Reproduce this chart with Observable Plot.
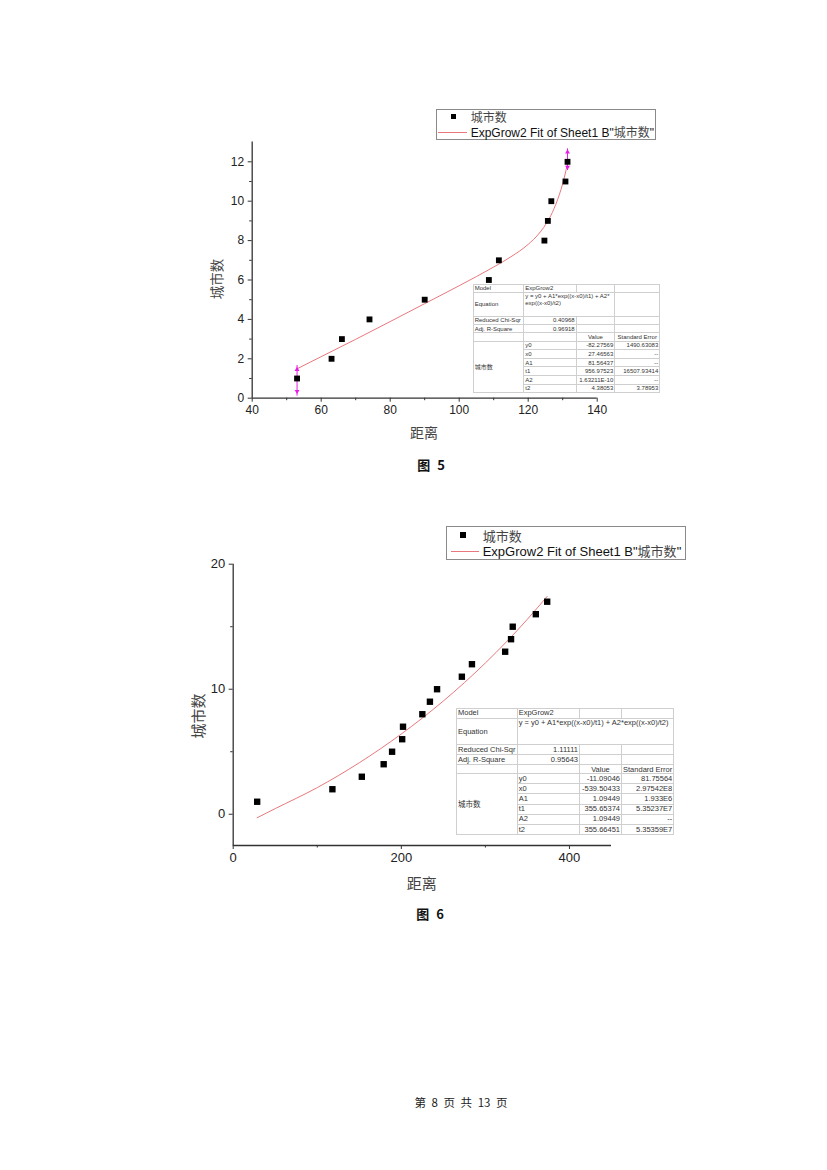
<!DOCTYPE html>
<html><head><meta charset="utf-8">
<script src="https://cdn.jsdelivr.net/npm/d3@7"></script>
<script src="https://cdn.jsdelivr.net/npm/@observablehq/plot@0.6"></script>
<style>
html,body{margin:0;padding:0;background:#fff;}
#page{position:relative;width:827px;height:1170px;overflow:hidden;font-family:"Liberation Sans",Arial,sans-serif;}
.cjk{font-family:"Noto Sans CJK SC",sans-serif;}
.legend{position:absolute;border:1px solid #8a8a8a;background:#fff;box-sizing:border-box;}
.legend .sq{position:absolute;background:#000;}
.legend .ln{position:absolute;height:1px;background:#e9787d;}
.legend .tx{position:absolute;white-space:nowrap;color:#111;line-height:1;}
.legend .tx span{line-height:1;}
table.fit{position:absolute;border-collapse:collapse;background:#fff;border:1px solid #777;table-layout:fixed;color:#333;}
table.fit td{border:1px solid #cfcfcf;padding:0 1px;white-space:nowrap;overflow:hidden;line-height:1;}
table.fit td.r{text-align:right;}
table.fit td.c{text-align:center;}
.lbl{position:absolute;white-space:nowrap;color:#333;line-height:1;}
</style></head>
<body><div id="page"></div>
<script>
// ---------- Figure 5 data ----------
const dist5 = [53, 63, 66, 74, 90, 108.6, 111.5, 124.7, 125.7, 126.7, 130.8, 131.4];
const cities5 = [1, 2, 3, 4, 5, 6, 7, 8, 9, 10, 11, 12];
const fitX5 = [53, 60, 70, 80, 90, 100, 110, 115, 120, 123, 125, 127, 128, 129, 130, 131, 131.4];
const fitY5 = [1.49, 2.11, 2.99, 3.89, 4.8, 5.71, 6.66, 7.18, 7.81, 8.33, 8.8, 9.43, 9.84, 10.32, 10.89, 11.6, 11.92];
const selX5 = [53, 131.4];
const selLow5 = [0.1, 11.56];
const selHigh5 = [1.66, 12.66];
const arrowUp5 = [1.45, 12.49];
const arrowDown5 = [0.35, 11.73];
const xMajor5 = [40, 60, 80, 100, 120, 140];
const xMinor5 = [50, 70, 90, 110, 130];
const yMajor5 = [0, 2, 4, 6, 8, 10, 12];
const yMinor5 = [1, 3, 5, 7, 9, 11];
const xDomain5 = [40, 140];
const yDomain5 = [0, 13];
const table5 = {
  model: "ExpGrow2",
  equation: "y = y0 + A1*exp((x-x0)/t1) + A2*<br>exp((x-x0)/t2)",
  chi: "0.40968", r2: "0.96918",
  params: ["y0", "x0", "A1", "t1", "A2", "t2"],
  values: ["-82.27569", "27.46563", "81.56437", "956.97523", "1.63211E-10", "4.38053"],
  errors: ["1490.63083", "--", "--", "16507.93414", "--", "3.78953"]
};

// ---------- Figure 6 data ----------
const dist6 = [28.5, 118, 153, 179, 189, 201, 202, 225, 234, 242.5, 272, 284, 323.5, 330.5, 332.5, 360, 373.5];
const cities6 = [1, 2, 3, 4, 5, 6, 7, 8, 9, 10, 11, 12, 13, 14, 15, 16, 17];
const fitX6 = [28.5, 50, 100, 150, 200, 250, 300, 350, 373.4];
const fitY6 = [-0.28, 0.45, 2.13, 4.12, 6.42, 9.06, 12.1, 15.6, 17.42];
const xMajor6 = [0, 200, 400];
const xMinor6 = [100, 300];
const yMajor6 = [0, 10, 20];
const yMinor6 = [5, 15];
const xDomain6 = [0, 450];
const yDomain6 = [-2.5, 20];
const table6 = {
  model: "ExpGrow2",
  equation: "y = y0 + A1*exp((x-x0)/t1) + A2*exp((x-x0)/t2)",
  chi: "1.11111", r2: "0.95643",
  params: ["y0", "x0", "A1", "t1", "A2", "t2"],
  values: ["-11.09046", "-539.50433", "1.09449", "355.65374", "1.09449", "355.66451"],
  errors: ["81.75564", "2.97542E8", "1.933E6", "5.35237E7", "--", "5.35359E7"]
};

const seriesName = "城市数";
const fitName = 'ExpGrow2 Fit of Sheet1 B"城市数"';
const xTitle = "距离";
const yTitle = "城市数";

const page = document.getElementById("page");
const RED = "#e9787d", MAG = "#e81ce8";

function chart({dist, cities, fitX, fitY, xMajor, xMinor, yMajor, yMinor, xDomain, yDomain,
                left, top, width, height, mL, mR, mT, mB, fs, r, sel}) {
  const pts = dist.map((d, i) => ({x: d, y: cities[i]}));
  const fit = fitX.map((d, i) => ({x: d, y: fitY[i]}));
  const marks = [
    Plot.ruleY([yDomain[0]], {stroke: "#333", strokeWidth: 1.3}),
    Plot.ruleX([xDomain[0]], {stroke: "#333", strokeWidth: 1.3}),
    Plot.axisX({ticks: xMajor, tickSize: 4, tickPadding: 3, fontSize: fs, fill: "#222", stroke: "#333", label: null}),
    Plot.axisX({ticks: xMinor, tickSize: 2.5, tickFormat: () => "", stroke: "#333", label: null}),
    Plot.axisY({ticks: yMajor, tickSize: 4, tickPadding: 4, fontSize: fs, fill: "#222", stroke: "#333", label: null}),
    Plot.axisY({ticks: yMinor, tickSize: 2.5, tickFormat: () => "", stroke: "#333", label: null}),
    Plot.line(fit, {x: "x", y: "y", stroke: RED, strokeWidth: 1, curve: "monotone-x"})
  ];
  if (sel) {
    const s = sel.x.map((d, i) => ({x: d, lo: sel.lo[i], hi: sel.hi[i]}));
    marks.push(Plot.ruleX(s, {x: "x", y1: "lo", y2: "hi", stroke: MAG, strokeWidth: 1}));
  }
  marks.push(Plot.dot(pts, {x: "x", y: "y", symbol: "square", r: r, fill: "#000", stroke: "none"}));
  if (sel) {
    const s = sel.x.map((d, i) => ({x: d, up: sel.up[i], dn: sel.dn[i]}));
    marks.push(Plot.dot(s, {x: "x", y: "up", symbol: "triangle", r: 1.8, fill: MAG, stroke: "none"}));
    marks.push(Plot.dot(s, {x: "x", y: "dn", symbol: "triangle", rotate: 180, r: 1.8, fill: MAG, stroke: "none"}));
  }
  const svg = Plot.plot({
    width, height, marginLeft: mL, marginRight: mR, marginTop: mT, marginBottom: mB,
    style: {fontFamily: "'Liberation Sans', Arial, sans-serif", background: "transparent", overflow: "visible"},
    x: {domain: xDomain, axis: null},
    y: {domain: yDomain, axis: null},
    marks
  });
  svg.style.position = "absolute";
  svg.style.left = left + "px";
  svg.style.top = top + "px";
  page.appendChild(svg);
}

function legend({left, top, w, h, sqX, sqY, lnX1, lnX2, lnY, txX, fs, sq}) {
  const d = document.createElement("div");
  d.className = "legend";
  Object.assign(d.style, {left: left + "px", top: top + "px", width: w + "px", height: h + "px"});
  d.innerHTML =
    `<div class="sq" style="left:${sqX - left - sq/2 - 1}px;top:${sqY - top - sq/2 - 1}px;width:${sq}px;height:${sq}px"></div>` +
    `<div class="tx cjk" style="left:${txX - left - 1}px;top:${sqY - top - fs/2 - 1}px;font-size:${fs}px;color:#444">${seriesName}</div>` +
    `<div class="ln" style="left:${lnX1 - left - 1}px;top:${lnY - top - 1}px;width:${lnX2 - lnX1}px"></div>` +
    `<div class="tx" style="left:${txX - left - 1}px;top:${lnY - top - fs/2 - 1}px;font-size:${fs}px">${fitName.replace("城市数", '<span class="cjk" style="color:#444">城市数</span>')}</div>`;
  page.appendChild(d);
}

function table(t, {left, top, cols, rows, fs, eqSpan}) {
  const tb = document.createElement("table");
  tb.className = "fit";
  tb.style.left = left + "px"; tb.style.top = top + "px";
  tb.style.fontSize = fs + "px";
  let html = "<colgroup>" + cols.map(c => `<col style="width:${c}px">`).join("") + "</colgroup>";
  const rh = i => `style="height:${rows[i]}px"`;
  html += `<tr ${rh(0)}><td>Model</td><td>${t.model}</td><td></td><td></td></tr>`;
  html += `<tr ${rh(1)}><td>Equation</td><td colspan="${eqSpan}" style="vertical-align:top;white-space:normal;line-height:1.15">${t.equation}</td>${eqSpan < 3 ? "<td></td>" : ""}</tr>`;
  html += `<tr ${rh(2)}><td>Reduced Chi-Sqr</td><td class="r">${t.chi}</td><td></td><td></td></tr>`;
  html += `<tr ${rh(3)}><td>Adj. R-Square</td><td class="r">${t.r2}</td><td></td><td></td></tr>`;
  html += `<tr ${rh(4)}><td></td><td></td><td class="c">Value</td><td class="c">Standard Error</td></tr>`;
  t.params.forEach((p, i) => {
    html += `<tr ${rh(5)}>` + (i === 0 ? `<td rowspan="6" class="cjk">${seriesName}</td>` : "") +
      `<td>${p}</td><td class="r">${t.values[i]}</td><td class="r">${t.errors[i]}</td></tr>`;
  });
  tb.innerHTML = html;
  page.appendChild(tb);
}

function label(text, x, y, fs, opts = {}) {
  const d = document.createElement("div");
  d.className = "lbl " + (opts.cls || "cjk");
  d.textContent = text;
  Object.assign(d.style, {left: x + "px", top: y + "px", fontSize: fs + "px",
    transform: `translate(-50%,-50%)${opts.rot ? " rotate(-90deg)" : ""}`,
    fontWeight: opts.bold ? "bold" : "normal", color: opts.color || "#444",
    letterSpacing: (opts.ls || 0) + "px", wordSpacing: (opts.ws || 0) + "px", whiteSpace: "pre"});
  page.appendChild(d);
}

// ---- Figure 5 ----
chart({dist: dist5, cities: cities5, fitX: fitX5, fitY: fitY5, xMajor: xMajor5, xMinor: xMinor5,
  yMajor: yMajor5, yMinor: yMinor5, xDomain: xDomain5, yDomain: yDomain5,
  left: 200, top: 120, width: 480, height: 320, mL: 51.7, mR: 83.3, mT: 21.6, mB: 42.3, fs: 12, r: 3.3,
  sel: {x: selX5, lo: selLow5, hi: selHigh5, up: arrowUp5, dn: arrowDown5}});
legend({left: 435.5, top: 109, w: 220.5, h: 30.5, sqX: 453.3, sqY: 116.7, lnX1: 438.3, lnX2: 466.7, lnY: 132.3, txX: 470.7, fs: 12, sq: 5.5});
table(table5, {left: 472.7, top: 284.3, cols: [50.6, 52.4, 38.6, 45], rows: [7.4, 24, 8.3, 8.3, 8.4, 8.6], fs: 6, eqSpan: 2});
label(yTitle, 217, 279, 13.5, {rot: true});
label(xTitle, 424, 432, 14);
label("图 5", 432, 464, 13, {bold: true, color: "#111", ls: 2});

// ---- Figure 6 ----
chart({dist: dist6, cities: cities6, fitX: fitX6, fitY: fitY6, xMajor: xMajor6, xMinor: xMinor6,
  yMajor: yMajor6, yMinor: yMinor6, xDomain: xDomain6, yDomain: yDomain6,
  left: 200, top: 545, width: 480, height: 340, mL: 32.7, mR: 69, mT: 18.7, mB: 40, fs: 13, r: 3.6});
legend({left: 445.5, top: 526, w: 240.5, h: 34, sqX: 463.3, sqY: 535, lnX1: 450.7, lnX2: 479.3, lnY: 550.7, txX: 482.7, fs: 13, sq: 6});
table(table6, {left: 456, top: 707.7, cols: [60.7, 62.3, 42, 52.3], rows: [10, 26.6, 10, 10, 9, 10.1], fs: 7.5, eqSpan: 3});
label(yTitle, 197, 716, 15, {rot: true});
label(xTitle, 421.7, 882, 15);
label("图 6", 431, 913, 13, {bold: true, color: "#111", ls: 2});

// ---- footer ----
label("第 8 页 共 13 页", 461, 1103, 11.5, {color: "#222", ws: 3});
</script>
</body></html>
